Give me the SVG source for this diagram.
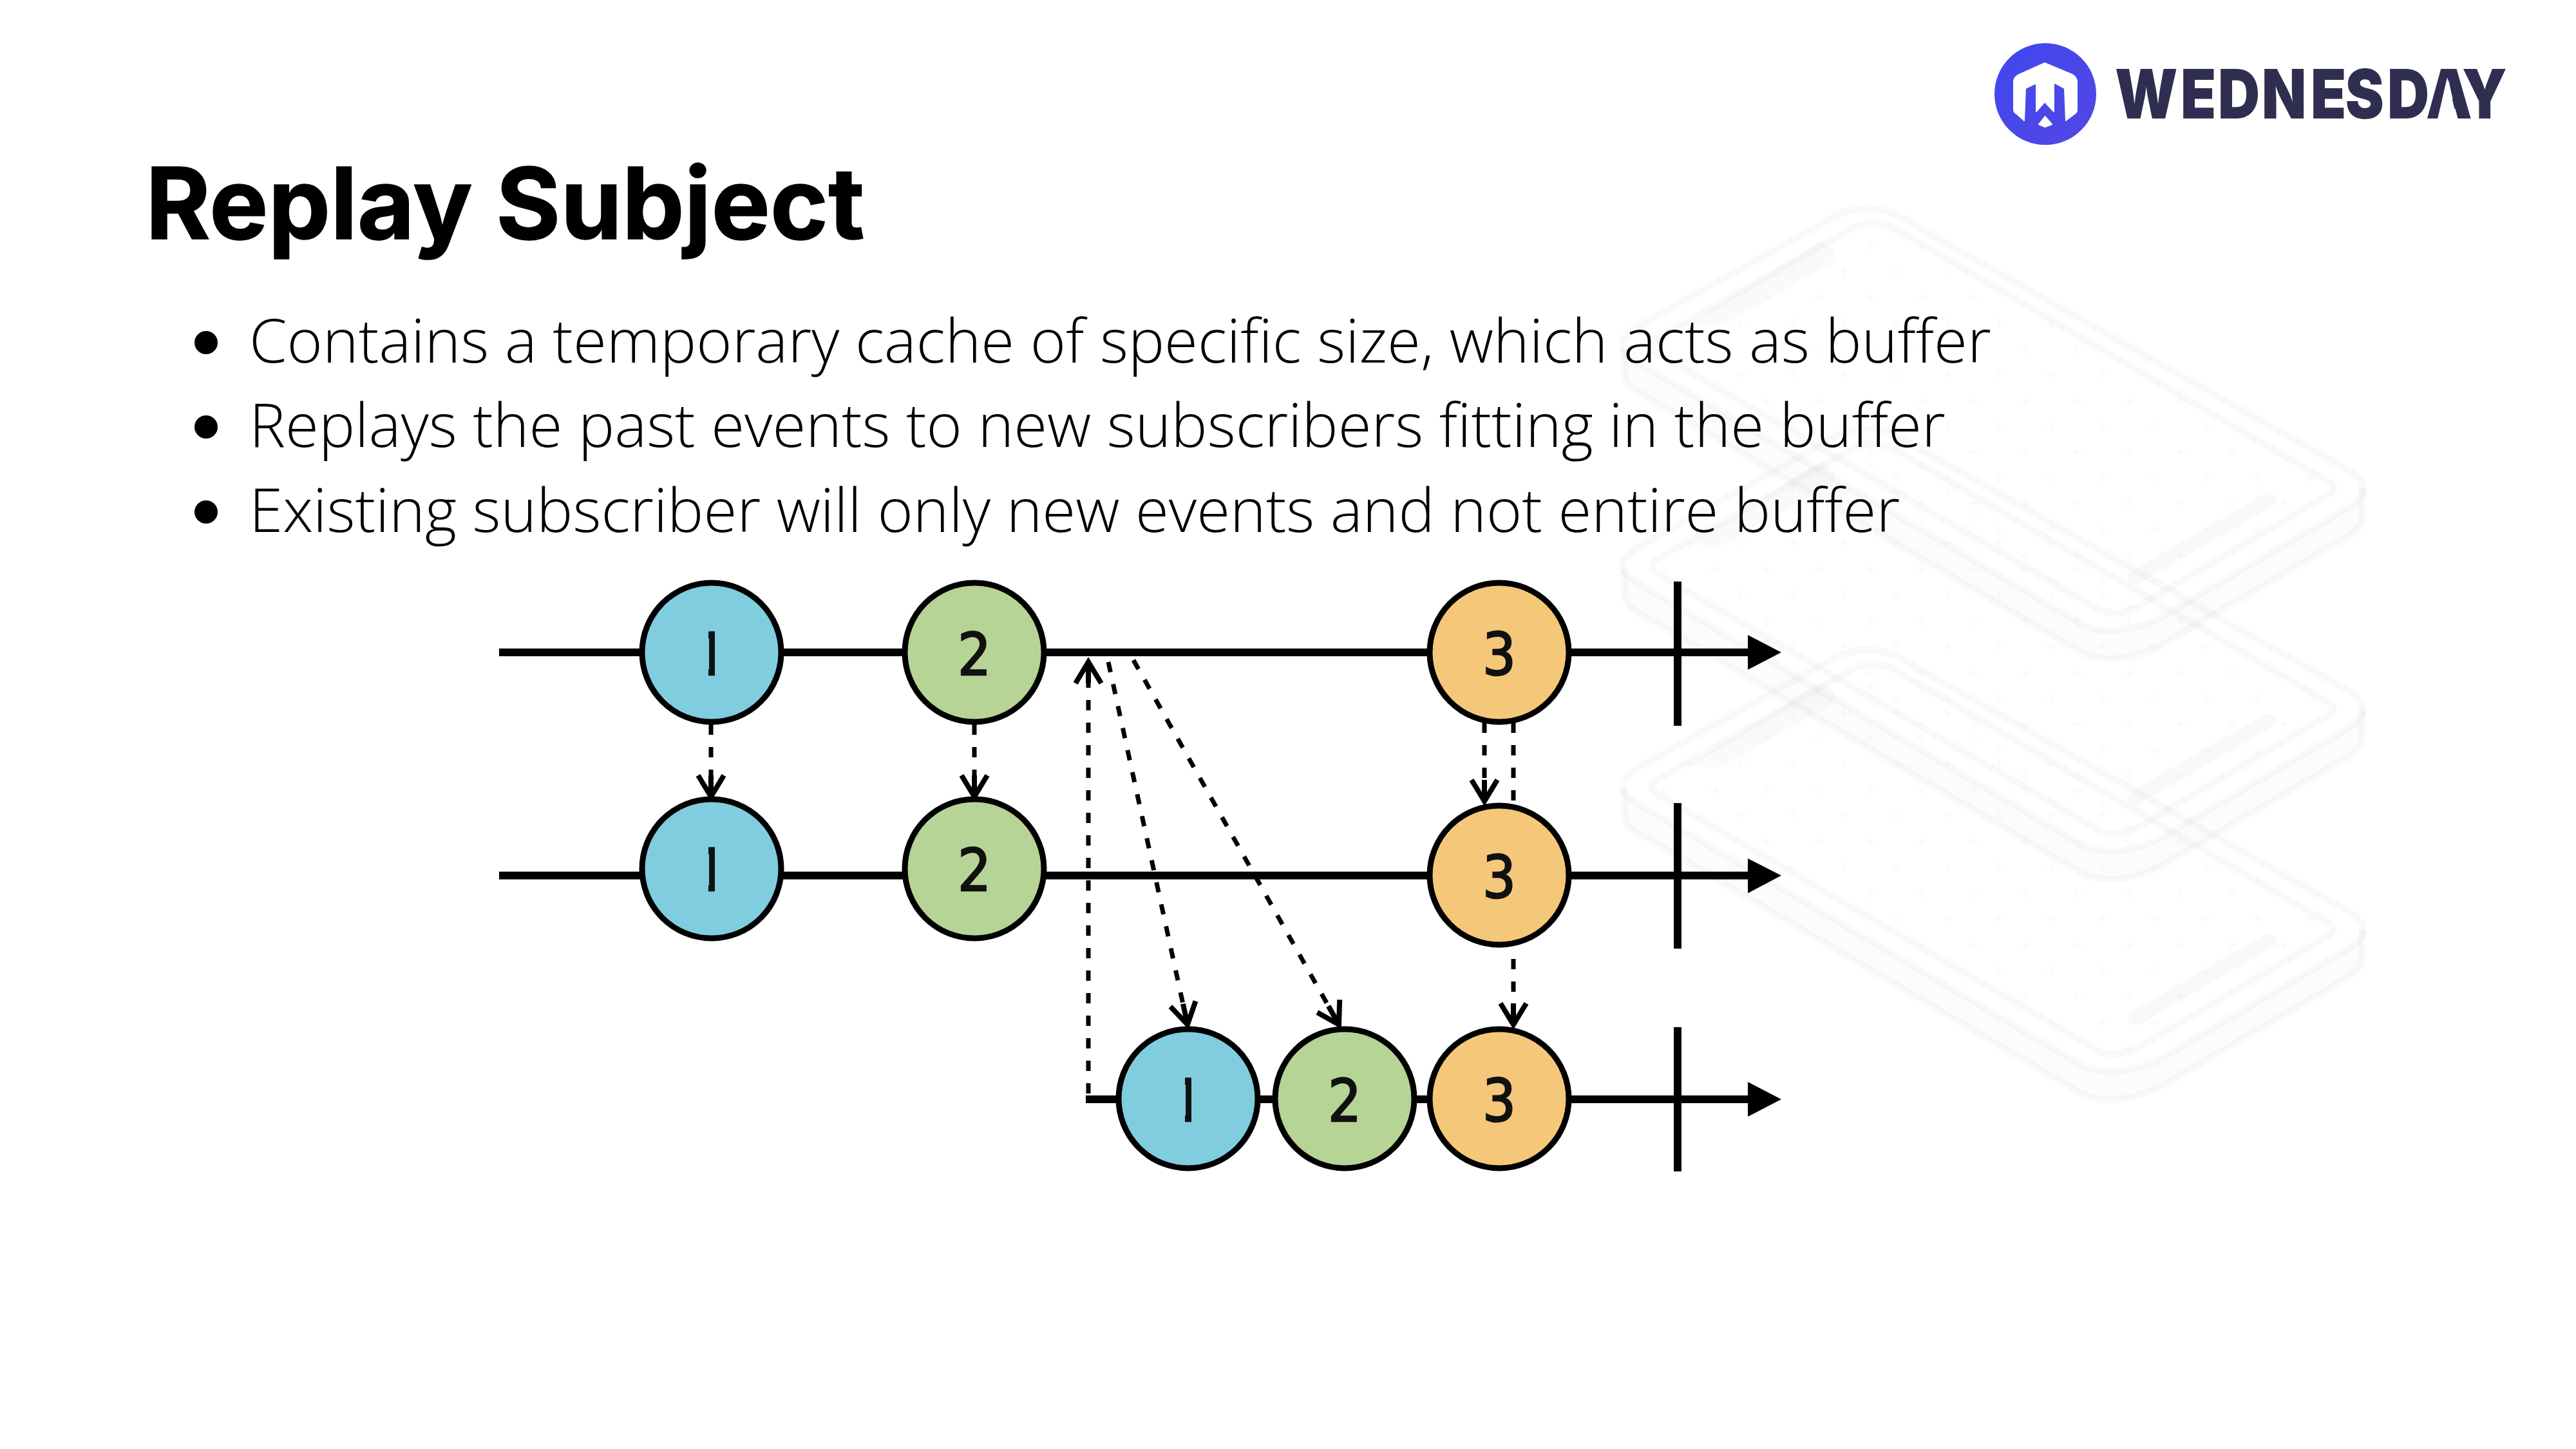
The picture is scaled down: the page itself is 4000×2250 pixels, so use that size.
<svg xmlns="http://www.w3.org/2000/svg" width="4000" height="2250" viewBox="0 0 4000 2250">
<style>
.title{font-family:"Inter","Liberation Sans",sans-serif;font-weight:700;font-size:153.500px;fill:#000;stroke:#000;stroke-width:1.500px}
.bul{font-family:"Open Sans","Noto Sans",sans-serif;font-weight:300;font-size:94.400px;fill:#000}
.brand{font-family:"Inter","Liberation Sans",sans-serif;font-weight:900;font-size:106px;fill:#2f2e50}
.dig{font-family:"DejaVu Sans",sans-serif;font-size:90px;font-stretch:condensed;fill:#111;stroke:#111;stroke-width:2.500px;text-anchor:middle}
.c{stroke:#000;stroke-width:9}
.blue{fill:#80cde0}.green{fill:#b6d495}.orange{fill:#f5c779}
.ln{stroke:#000;stroke-width:12;fill:none}
.dash{stroke:#000;stroke-width:7;fill:none;stroke-dasharray:16 19;marker-end:url(#open)}
.dashn{stroke:#000;stroke-width:7;fill:none;stroke-dasharray:16 19}
.pl{fill:none;stroke:#000;stroke-opacity:.022;stroke-width:11}
</style>
<defs>
<linearGradient id="lg" x1="0" y1="0" x2="1" y2="1"><stop offset="0" stop-color="#3f48ee"/><stop offset="1" stop-color="#5346e4"/></linearGradient>
<marker id="open" markerUnits="userSpaceOnUse" markerWidth="50" markerHeight="50" refX="38" refY="25" orient="auto" viewBox="0 0 50 50">
<path d="M5 5L38 25L5 45M5 25H38" fill="none" stroke="#000" stroke-width="8"/>
</marker>
<clipPath id="stem"><rect x="-5" y="-50" width="10" height="100"/></clipPath>
<clipPath id="screen"><path d="M2580 1207L2870 1043Q2907 1020 2947 1043L3607 1428Q3640 1443 3607 1458L3323 1625Q3282 1648 3253 1628L2580 1237Q2550 1224 2580 1207Z"/></clipPath>
<pattern id="plus" patternUnits="userSpaceOnUse" width="80.250" height="80.250">
<path d="M7 22.750H23M15 14.750V30.750M47.100 62.900H63.100M55.100 54.900V70.900" stroke="#000" stroke-opacity=".028" stroke-width="1.600" fill="none"/>
</pattern>
<g id="plate">
<path d="M2522 1227V1267Q2520 1282 2543 1293L3230 1697Q3276 1722 3350 1690L3647 1517Q3668 1503 3668 1490V1443Q3690 1445 3647 1473L3350 1647Q3276 1678 3230 1653L2543 1248Q2495 1219 2522 1227Z" fill="#3c1478" fill-opacity=".012"/>
<path class="pl" d="M2547 1190L2833 1030Q2905 985 2975 1036L3650 1417Q3690 1445 3647 1473L3350 1647Q3276 1678 3230 1653L2543 1248Q2495 1219 2547 1190Z"/>
<path class="pl" d="M2522 1227V1267Q2524 1282 2543 1293L3230 1697Q3276 1722 3350 1690L3647 1517Q3668 1503 3668 1490V1443"/>
<path class="pl" d="M2580 1207L2870 1043Q2907 1020 2947 1043L3607 1428Q3640 1443 3607 1458L3323 1625Q3282 1648 3253 1628L2580 1237Q2550 1224 2580 1207Z"/>
<path d="M2623 1187L2827 1060Q2862 1075 2842 1095L2680 1187Q2660 1198 2640 1188Z" fill="#000" fill-opacity=".02"/>
<path d="M3316 1581L3523 1461" stroke="#000" stroke-opacity=".022" stroke-width="23" stroke-linecap="round" fill="none"/>
<rect x="2500" y="980" width="1200" height="720" fill="url(#plus)" clip-path="url(#screen)"/>
</g>
</defs>
<rect width="4000" height="2250" fill="#fff"/>
<g id="background">
<use href="#plate" transform="translate(0,-685)"/>
<use href="#plate" transform="translate(0,-342.500)"/>
<use href="#plate"/>
</g>
<g id="logo">
<circle cx="3176" cy="146" r="79" fill="url(#lg)"/>
<path fill="#fff" stroke="#fff" stroke-width="2" stroke-linejoin="round" d="M3175 98L3135 116Q3127 120 3127 127V170Q3127 175 3132 177L3143 187L3145 137L3162 129V173L3175 158L3189 173V128L3206 137L3208 187L3221 177Q3225 175 3225 170V127Q3225 120 3218 116ZM3175.500 181L3186 193L3175.500 197L3166 193Z"/>
<text class="brand" transform="translate(3284,184) scale(.85,1)" x="0 120 188.200 268.100 357.700 420.900 497.800 568.200 634.100" y="0">WEDNESDAY</text>
<path fill="#fff" d="M3800 120L3815 185H3785Z"/>
</g>
<text class="title" x="226" y="371">Replay Subject</text>
<g id="bullets">
<circle cx="320" cy="532" r="18"/><text class="bul" x="387" y="563">Contains a temporary cache of specific size, which acts as buffer</text>
<circle cx="320" cy="663" r="18"/><text class="bul" x="387" y="694">Replays the past events to new subscribers fitting in the buffer</text>
<circle cx="320" cy="795" r="18"/><text class="bul" x="387" y="826">Existing subscriber will only new events and not entire buffer</text>
</g>
<g id="connectors">
<path class="ln" d="M775 1013H2722M775 1359.500H2722M1686 1707H2722M2605 903V1127M2605 1247V1473M2605 1595V1819"/>
<path d="M2714 986L2766 1013L2714 1040ZM2714 1333L2766 1359.500L2714 1387ZM2714 1680L2766 1707L2714 1734Z"/>
<path class="dash" d="M1104 1125V1237"/>
<path class="dash" d="M1513 1125V1237"/>
<path class="dash" d="M1690 1698V1028"/>
<path class="dash" d="M1721 1028L1844 1591"/>
<path class="dash" d="M1760 1025L2079 1591"/>
<path class="dash" d="M2305 1122V1244"/>
<path class="dashn" d="M2350 1122V1252"/>
<path class="dash" d="M2350 1489V1591"/>
</g>
<g id="n1a" transform="translate(1105,1013)"><circle class="c blue" r="108"/><text class="dig" y="35" clip-path="url(#stem)">1</text></g>
<g id="n2a" transform="translate(1513,1013)"><circle class="c green" r="108"/><text class="dig" y="35">2</text></g>
<g id="n3a" transform="translate(2328,1013)"><circle class="c orange" r="108"/><text class="dig" y="35">3</text></g>
<g id="n1b" transform="translate(1105,1349)"><circle class="c blue" r="108"/><text class="dig" y="34" clip-path="url(#stem)">1</text></g>
<g id="n2b" transform="translate(1513,1349)"><circle class="c green" r="108"/><text class="dig" y="34">2</text></g>
<g id="n3b" transform="translate(2328,1359)"><circle class="c orange" r="108"/><text class="dig" y="35">3</text></g>
<g id="n1c" transform="translate(1845,1706)"><circle class="c blue" r="108"/><text class="dig" y="35" clip-path="url(#stem)">1</text></g>
<g id="n2c" transform="translate(2088,1706)"><circle class="c green" r="108"/><text class="dig" y="35">2</text></g>
<g id="n3c" transform="translate(2328,1706)"><circle class="c orange" r="108"/><text class="dig" y="35">3</text></g>
</svg>
